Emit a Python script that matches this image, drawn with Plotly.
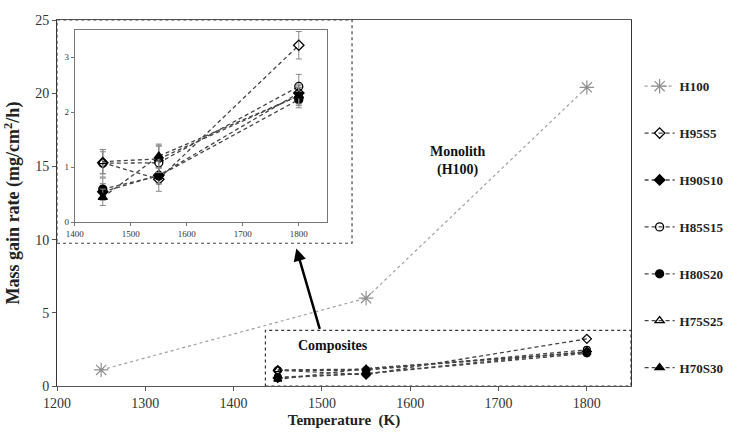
import plotly.graph_objects as go

# Temperatures (K)
temps_mono = [1250, 1550, 1800]
temps_comp = [1450, 1550, 1800]

# Mass gain rate (mg/cm2/h)
h100 = [1.1, 6.0, 20.4]

names = ["H95S5", "H90S10", "H85S15", "H80S20", "H75S25", "H70S30"]
h95s5 = [1.08, 0.78, 3.22]
h90s10 = [0.55, 0.85, 2.35]
h85s15 = [1.07, 1.08, 2.47]
h80s20 = [0.60, 0.84, 2.23]
h75s25 = [1.10, 1.15, 2.30]
h70s30 = [0.45, 1.20, 2.30]

err_h95s5 = [0.20, 0.22, 0.25]
err_h90s10 = [0.15, 0.15, 0.15]
err_h85s15 = [0.25, 0.30, 0.22]
err_h80s20 = [0.20, 0.15, 0.15]
err_h75s25 = [0.22, 0.25, 0.18]
err_h70s30 = [0.15, 0.22, 0.15]

values = [h95s5, h90s10, h85s15, h80s20, h75s25, h70s30]
errors = [err_h95s5, err_h90s10, err_h85s15, err_h80s20, err_h75s25, err_h70s30]
symbols = ["diamond-open", "diamond", "circle-open", "circle",
           "triangle-up-open", "triangle-up"]

SERIF = "Liberation Serif, Times New Roman, serif"
DASH = "4px,3px"
fig = go.Figure()

# Monolith series on the main axes
fig.add_trace(go.Scatter(
    x=temps_mono, y=h100, name="<b>H100</b>", mode="lines+markers",
    line=dict(color="#a0a0a0", width=1.2, dash="dot"),
    marker=dict(symbol="asterisk-open", size=12, color="#909090",
                line=dict(width=1.2, color="#909090")),
    legendgroup="H100", xaxis="x", yaxis="y"))

# Composites on the main axes (no legend entries)
for nm, vals, sym in zip(names, values, symbols):
    fig.add_trace(go.Scatter(
        x=temps_comp, y=vals, mode="lines+markers", showlegend=False,
        line=dict(color="#444444", width=1.3, dash=DASH),
        marker=dict(symbol=sym, size=7, color="black",
                    line=dict(width=1.2, color="black")),
        legendgroup=nm, xaxis="x", yaxis="y"))

# Composites on the zoomed inset, with error bars
for nm, vals, errs, sym in zip(names, values, errors, symbols):
    fig.add_trace(go.Scatter(
        x=temps_comp, y=vals, name=f"<b>{nm}</b>", mode="lines+markers",
        line=dict(color="#444444", width=1.3, dash=DASH),
        marker=dict(symbol=sym, size=8, color="black",
                    line=dict(width=1.3, color="black")),
        error_y=dict(type="data", array=errs, visible=True,
                     color="#888888", thickness=1, width=3),
        legendgroup=nm, xaxis="x2", yaxis="y2"))

fig.update_layout(
    width=741, height=448,
    margin=dict(l=57, r=108, t=20, b=62),
    paper_bgcolor="white", plot_bgcolor="white",
    font=dict(family=SERIF, color="#222222", size=12),
    xaxis=dict(range=[1200, 1850], tickvals=[1200, 1300, 1400, 1500, 1600, 1700, 1800],
               showgrid=False, zeroline=False, showline=True, linecolor="#555555",
               linewidth=1, mirror=True, ticks="outside", ticklen=4,
               tickcolor="#555555", tickfont=dict(size=14, color="#333333"),
               title=dict(text="<b>Temperature  (K)</b>", font=dict(size=15, color="#222222"),
                          standoff=4)),
    yaxis=dict(range=[0, 25], tickvals=[0, 5, 10, 15, 20, 25],
               showgrid=False, zeroline=False, showline=True, linecolor="#333333",
               linewidth=1, mirror=True, ticks="outside", ticklen=4,
               tickcolor="#555555", tickfont=dict(size=14, color="#333333"),
               title=dict(text="<b>Mass gain rate (mg/cm<sup>2</sup>/h)</b>",
                          font=dict(size=18, color="#222222"), standoff=10)),
    xaxis2=dict(domain=[0.031, 0.470], anchor="y2", range=[1400, 1850],
                tickvals=[1400, 1500, 1600, 1700, 1800],
                showgrid=False, zeroline=False, showline=True, linecolor="#777777",
                mirror=True, ticks="outside", ticklen=3, tickcolor="#777777",
                tickfont=dict(size=9, color="#333333")),
    yaxis2=dict(domain=[0.448, 0.973], anchor="x2", range=[0, 3.5],
                tickvals=[0, 1, 2, 3],
                showgrid=False, zeroline=False, showline=True, linecolor="#777777",
                mirror=True, ticks="outside", ticklen=3, tickcolor="#777777",
                tickfont=dict(size=9, color="#333333")),
    legend=dict(x=1.015, y=0.86, xanchor="left", yanchor="top",
                font=dict(family=SERIF, size=13, color="#222222"),
                tracegroupgap=27, itemwidth=30, bgcolor="rgba(0,0,0,0)"),
    showlegend=True,
)

# Dashed frame around the inset
fig.add_shape(type="rect", xref="paper", yref="paper",
              x0=0.0, x1=0.514, y0=0.39, y1=1.0,
              line=dict(color="#444444", width=1.2, dash="dot"))

# Dashed frame around the composite region on the main axes
fig.add_shape(type="rect", xref="x", yref="y",
              x0=1436, x1=1850, y0=0, y1=3.8,
              line=dict(color="#333333", width=1.2, dash="dot"))

# Arrow pointing from the composite region to the inset
fig.add_annotation(x=1471, y=9.4, ax=1498, ay=3.8, xref="x", yref="y",
                   axref="x", ayref="y", text="", showarrow=True,
                   arrowhead=2, arrowsize=1, arrowwidth=2.5, arrowcolor="black")

fig.add_annotation(x=1512, y=2.75, xref="x", yref="y", text="<b>Composites</b>",
                   showarrow=False, font=dict(size=14, color="#111111"))
fig.add_annotation(x=1653, y=15.4, xref="x", yref="y", text="<b>Monolith<br>(H100)</b>",
                   showarrow=False, font=dict(size=14, color="#111111"))

fig.write_html("out.html")
